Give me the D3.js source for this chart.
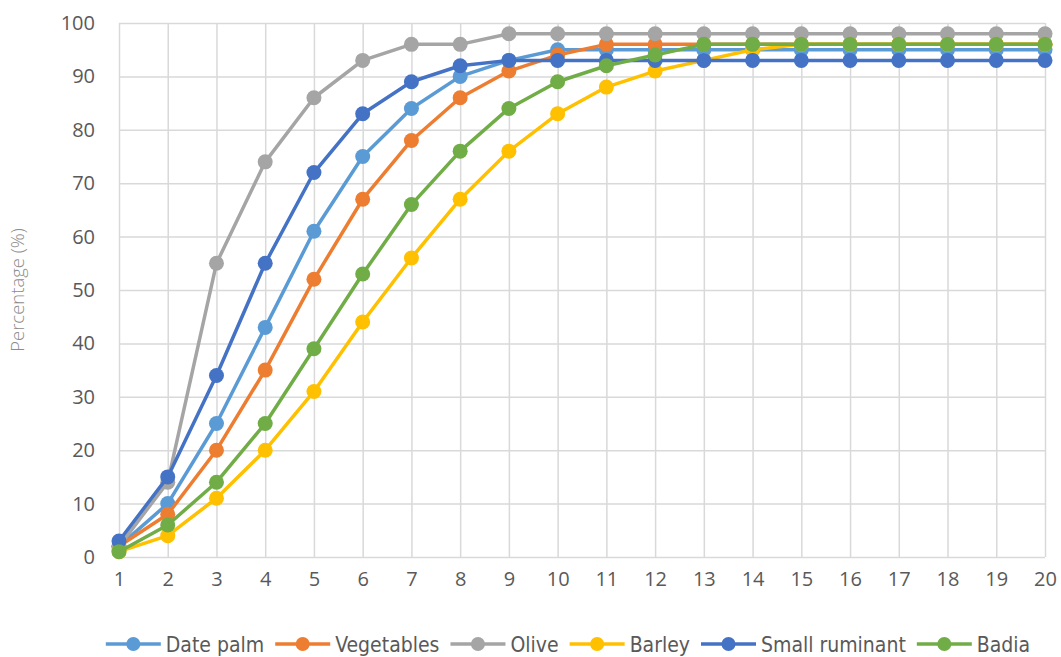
<!DOCTYPE html>
<html>
<head>
<meta charset="utf-8">
<script src="https://cdn.jsdelivr.net/npm/d3@7"></script>
<style>
  body { margin: 0; background: #fff; }
  svg { display: block; }
</style>
</head>
<body>
<svg id="chart" width="1061" height="657"></svg>
<script>
// x categories (years / steps)
var steps = d3.range(1, 21)
var yTicks = [0, 10, 20, 30, 40, 50, 60, 70, 80, 90, 100]

// series values
var datePalm      = [2, 10, 25, 43, 61, 75, 84, 90, 93, 95, 95, 95, 95, 95, 95, 95, 95, 95, 95, 95]
var vegetables    = [2, 8, 20, 35, 52, 67, 78, 86, 91, 94, 96, 96, 96, 96, 96, 96, 96, 96, 96, 96]
var olive         = [2, 14, 55, 74, 86, 93, 96, 96, 98, 98, 98, 98, 98, 98, 98, 98, 98, 98, 98, 98]
var barley        = [1, 4, 11, 20, 31, 44, 56, 67, 76, 83, 88, 91, 93, 95, 96, 96, 96, 96, 96, 96]
var smallRuminant = [3, 15, 34, 55, 72, 83, 89, 92, 93, 93, 93, 93, 93, 93, 93, 93, 93, 93, 93, 93]
var badia         = [1, 6, 14, 25, 39, 53, 66, 76, 84, 89, 92, 94, 96, 96, 96, 96, 96, 96, 96, 96]

var seriesNames = ["Date palm", "Vegetables", "Olive", "Barley", "Small ruminant", "Badia"]
var seriesValues = [datePalm, vegetables, olive, barley, smallRuminant, badia]
var seriesColors = ["#5b9bd5", "#ed7d31", "#a5a5a5", "#ffc000", "#4472c4", "#70ad47"]

var svg = d3.select("#chart")
var mLeft = 119, mRight = 1045, mTop = 23, mBottom = 557

var x = d3.scaleLinear().domain([1, 20]).range([mLeft, mRight])
var y = d3.scaleLinear().domain([0, 100]).range([mBottom, mTop])

// gridlines
svg.append("g")
  .attr("transform", "translate(0," + mBottom + ")")
  .call(d3.axisBottom(x).tickValues(steps).tickSize(-(mBottom - mTop)).tickFormat(""))
  .call(function(g) { g.select(".domain").remove() })
  .selectAll("line").attr("stroke", "#d9d9d9").attr("stroke-width", 1.5)
svg.append("g")
  .attr("transform", "translate(" + mLeft + ",0)")
  .call(d3.axisLeft(y).tickValues(yTicks).tickSize(-(mRight - mLeft)).tickFormat(""))
  .call(function(g) { g.select(".domain").remove() })
  .selectAll("line").attr("stroke", "#d9d9d9").attr("stroke-width", 1.5)

// tick labels
var xAxis = svg.append("g")
  .attr("transform", "translate(0," + mBottom + ")")
  .call(d3.axisBottom(x).tickValues(steps).tickSize(0).tickPadding(15).tickFormat(d3.format("d")))
xAxis.select(".domain").remove()
var yAxis = svg.append("g")
  .attr("transform", "translate(" + mLeft + ",0)")
  .call(d3.axisLeft(y).tickValues(yTicks).tickSize(0).tickPadding(24))
yAxis.select(".domain").remove()
svg.selectAll(".tick text")
  .attr("fill", "#595959")
  .style("font-family", "'Open Sans', sans-serif")
  .style("font-size", "20px")

// y axis title
svg.append("text")
  .attr("transform", "translate(24," + ((mTop + mBottom) / 2) + ") rotate(-90)")
  .attr("text-anchor", "middle")
  .attr("fill", "#8c8c8c")
  .style("font-family", "'Open Sans', sans-serif")
  .style("font-weight", 300)
  .style("font-size", "18.5px")
  .text("Percentage (%)")

// lines and markers
var line = d3.line()
  .x(function(d, i) { return x(steps[i]) })
  .y(function(d) { return y(d) })

seriesValues.forEach(function(vals, k) {
  var g = svg.append("g")
  g.append("path")
    .datum(vals)
    .attr("d", line)
    .attr("fill", "none")
    .attr("stroke", seriesColors[k])
    .attr("stroke-width", 3.5)
    .attr("stroke-linejoin", "round")
  g.selectAll("circle")
    .data(vals)
    .enter()
    .append("circle")
    .attr("cx", function(d, i) { return x(steps[i]) })
    .attr("cy", function(d) { return y(d) })
    .attr("r", 7.5)
    .attr("fill", seriesColors[k])
})

// legend
var legend = svg.append("g")
var lx = 0
seriesNames.forEach(function(name, k) {
  var item = legend.append("g").attr("transform", "translate(" + lx + ",0)")
  item.append("line")
    .attr("x1", 0).attr("x2", 55).attr("y1", 0).attr("y2", 0)
    .attr("stroke", seriesColors[k]).attr("stroke-width", 3.5)
  item.append("circle")
    .attr("cx", 27.5).attr("cy", 0).attr("r", 7)
    .attr("fill", seriesColors[k])
  var t = item.append("text")
    .attr("x", 60).attr("y", 8)
    .attr("fill", "#595959")
    .style("font-family", "'DejaVu Sans Condensed', 'DejaVu Sans', sans-serif")
    .style("font-stretch", "condensed")
    .style("font-size", "21px")
    .text(name)
  lx += 60 + t.node().getComputedTextLength() + 11
})
lx -= 11
legend.attr("transform", "translate(" + (568 - lx / 2) + ",644)")
</script>
</body>
</html>
